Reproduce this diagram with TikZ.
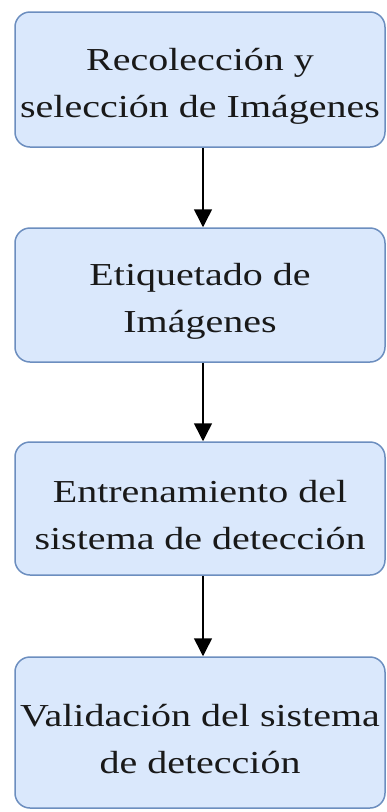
\documentclass[tikz,border=0pt]{standalone}
\usepackage{fontspec}
\setmainfont{Liberation Serif}[FakeStretch=1.25]
\usetikzlibrary{arrows.meta}
\definecolor{boxfill}{HTML}{DAE8FC}
\definecolor{boxline}{HTML}{6C8EBF}
\newcommand{\topstrut}{\rule{0pt}{35pt}}
\tikzset{
  stepbox/.style={draw=boxline, fill=boxfill, line width=1.5pt, rounded corners=15pt,
    minimum width=370pt, align=center, inner sep=0pt,
    font=\fontsize{32}{47}\selectfont, text=black!90},
  arr/.style={draw=black, line width=1.5pt, -{Triangle[width=18pt,length=18pt]}}
}
\begin{document}
\begin{tikzpicture}[x=1pt,y=-1pt]
\useasboundingbox (0,0) rectangle (386,812);
\node[stepbox, minimum height=135pt] (b1) at (200,79.5) {\topstrut Recolección y\\selección de Imágenes};
\node[stepbox, minimum height=134pt] (b2) at (200,295) {\topstrut Etiquetado de\\Imágenes};
\node[stepbox, minimum height=133pt] (b3) at (200,508.5) {\topstrut Entrenamiento del\\sistema de detección};
\node[stepbox, minimum height=151pt] (b4) at (200,732.5) {\topstrut Validación del sistema\\de detección};
\draw[arr] ([xshift=3pt]b1.south) -- ([xshift=3pt]b2.north);
\draw[arr] ([xshift=3pt]b2.south) -- ([xshift=3pt]b3.north);
\draw[arr] ([xshift=3pt]b3.south) -- ([xshift=3pt]b4.north);
\end{tikzpicture}
\end{document}
